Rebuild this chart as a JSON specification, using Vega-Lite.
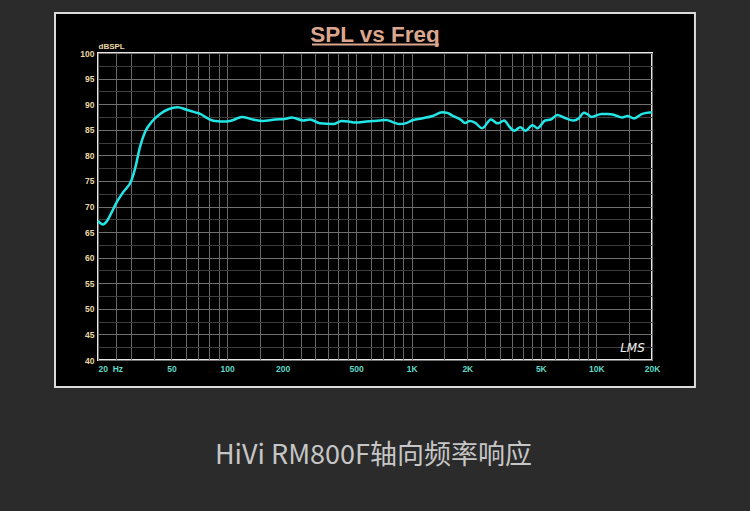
{
  "$schema": "https://vega.github.io/schema/vega-lite/v6.json",
  "width": 554,
  "height": 307,
  "autosize": {"type": "none"},
  "padding": {"left": 98, "top": 53, "right": 98, "bottom": 151},
  "background": "#000000",
  "config": {
    "view": {"fill": "#000000", "stroke": "#e6e6e6", "strokeWidth": 2},
    "axis": {"domain": false, "ticks": false, "labelFlush": false, "labelOverlap": false, "labelFont": "Liberation Sans", "labelFontWeight": "bold", "labelFontSize": 8.5, "labelPadding": 4, "gridWidth": 1},
    "axisX": {"labelColor": "#5ed9c6", "gridColor": "#6a6a6a"},
    "axisY": {"labelColor": "#e9d9a6", "titleColor": "#e9d9a6", "titleFont": "Liberation Sans", "titleFontWeight": "bold", "titleFontSize": 8}
  },
  "datasets": {
    "response": [
      {"f": 20, "spl": 67.2}, {"f": 21.3, "spl": 66.5}, {"f": 22.2, "spl": 67.0}, {"f": 23.3, "spl": 68.3},
      {"f": 25.3, "spl": 70.9}, {"f": 27.5, "spl": 72.9}, {"f": 30.5, "spl": 75.3}, {"f": 31.8, "spl": 77.5},
      {"f": 33.8, "spl": 81.7}, {"f": 36, "spl": 84.6}, {"f": 39.2, "spl": 86.6}, {"f": 43.4, "spl": 88.1},
      {"f": 48.1, "spl": 89.0}, {"f": 53.9, "spl": 89.4}, {"f": 60.4, "spl": 88.9}, {"f": 67.3, "spl": 88.4},
      {"f": 71.5, "spl": 88.1}, {"f": 78.7, "spl": 87.2}, {"f": 86, "spl": 86.7}, {"f": 99.4, "spl": 86.6},
      {"f": 108, "spl": 86.9}, {"f": 120, "spl": 87.5}, {"f": 138, "spl": 87.0}, {"f": 156, "spl": 86.7},
      {"f": 182, "spl": 87.0}, {"f": 205, "spl": 87.1}, {"f": 224, "spl": 87.4}, {"f": 259, "spl": 86.8},
      {"f": 281, "spl": 87.0}, {"f": 318, "spl": 86.25}, {"f": 376, "spl": 86.1}, {"f": 417, "spl": 86.7},
      {"f": 454, "spl": 86.6}, {"f": 494, "spl": 86.4}, {"f": 569, "spl": 86.6}, {"f": 669, "spl": 86.8},
      {"f": 728, "spl": 86.9}, {"f": 800, "spl": 86.4}, {"f": 858, "spl": 86.1}, {"f": 934, "spl": 86.3},
      {"f": 1000, "spl": 86.8}, {"f": 1130, "spl": 87.2}, {"f": 1300, "spl": 87.7}, {"f": 1460, "spl": 88.4},
      {"f": 1560, "spl": 88.3}, {"f": 1650, "spl": 87.8}, {"f": 1852, "spl": 86.9}, {"f": 1943, "spl": 86.3},
      {"f": 2060, "spl": 86.7}, {"f": 2198, "spl": 86.4}, {"f": 2405, "spl": 85.3}, {"f": 2685, "spl": 87.0},
      {"f": 2918, "spl": 86.25}, {"f": 3165, "spl": 86.8}, {"f": 3375, "spl": 85.6}, {"f": 3596, "spl": 84.8},
      {"f": 3867, "spl": 85.5}, {"f": 4120, "spl": 84.8}, {"f": 4508, "spl": 85.9}, {"f": 4798, "spl": 85.3},
      {"f": 5275, "spl": 86.8}, {"f": 5660, "spl": 87.0}, {"f": 6140, "spl": 87.9}, {"f": 6670, "spl": 87.4},
      {"f": 7533, "spl": 86.8}, {"f": 8006, "spl": 87.2}, {"f": 8560, "spl": 88.3}, {"f": 8900, "spl": 88.1},
      {"f": 9420, "spl": 87.5}, {"f": 10640, "spl": 88.1}, {"f": 11540, "spl": 88.1}, {"f": 12500, "spl": 87.9},
      {"f": 13800, "spl": 87.4}, {"f": 14760, "spl": 87.7}, {"f": 16000, "spl": 87.2}, {"f": 17700, "spl": 88.1},
      {"f": 20000, "spl": 88.4}
    ],
    "texts": [
      {"title": "SPL vs Freq", "caption": "HiVi RM800F轴向频率响应", "logo": "LMS"}
    ]
  },
  "layer": [
    {
      "data": {"name": "response"},
      "mark": {"type": "line", "color": "#22e6e6", "strokeWidth": 2.5, "interpolate": "monotone"},
      "encoding": {
        "x": {
          "field": "f", "type": "quantitative",
          "scale": {"type": "log", "domain": [20, 20000], "nice": false},
          "axis": {"title": null, "values": [20, 25, 30, 40, 50, 60, 70, 80, 90, 100, 150, 200, 250, 300, 350, 400, 450, 500, 600, 700, 800, 900, 1000, 1500, 2000, 2500, 3000, 3500, 4000, 4500, 5000, 6000, 7000, 8000, 9000, 10000, 15000, 20000], "labelExpr": "datum.value == 20 ? '20\u00a0\u00a0Hz' : indexof([50, 100, 200, 500], datum.value) >= 0 ? ('' + datum.value) : indexof([1000, 2000, 5000, 10000, 20000], datum.value) >= 0 ? ((datum.value / 1000) + 'K') : ''", "labelAlign": {"condition": {"test": "datum.value == 20", "value": "left"}, "value": "center"}}
        },
        "y": {
          "field": "spl", "type": "quantitative",
          "scale": {"domain": [40, 100], "zero": false, "nice": false},
          "axis": {"title": "dBSPL", "titleAngle": 0, "titleAlign": "left", "titleBaseline": "bottom", "titleX": 0, "titleY": -3, "values": [40, 42.5, 45, 47.5, 50, 52.5, 55, 57.5, 60, 62.5, 65, 67.5, 70, 72.5, 75, 77.5, 80, 82.5, 85, 87.5, 90, 92.5, 95, 97.5, 100], "labelExpr": "datum.value % 5 == 0 ? ('' + datum.value) : ''", "gridColor": {"condition": {"test": "datum.value % 5 == 0", "value": "#707070"}, "value": "#3c3c3c"}}
        }
      }
    },
    {
      "data": {"name": "texts"},
      "mark": {"type": "rect", "fill": "transparent", "stroke": "#2b2b2b", "strokeWidth": 400},
      "encoding": {
        "x": {"datum": 0.9664, "type": "quantitative", "scale": {"type": "log", "domain": [20, 20000], "nice": false},
          "axis": {"title": null, "values": [20, 25, 30, 40, 50, 60, 70, 80, 90, 100, 150, 200, 250, 300, 350, 400, 450, 500, 600, 700, 800, 900, 1000, 1500, 2000, 2500, 3000, 3500, 4000, 4500, 5000, 6000, 7000, 8000, 9000, 10000, 15000, 20000], "labelExpr": "datum.value == 20 ? '20\u00a0\u00a0Hz' : indexof([50, 100, 200, 500], datum.value) >= 0 ? ('' + datum.value) : indexof([1000, 2000, 5000, 10000, 20000], datum.value) >= 0 ? ((datum.value / 1000) + 'K') : ''", "labelAlign": {"condition": {"test": "datum.value == 20", "value": "left"}, "value": "center"}}},
        "x2": {"datum": 413860},
        "y": {"datum": 146.9, "type": "quantitative", "scale": {"domain": [40, 100], "zero": false, "nice": false},
          "axis": {"title": "dBSPL", "titleAngle": 0, "titleAlign": "left", "titleBaseline": "bottom", "titleX": 0, "titleY": -3, "values": [40, 42.5, 45, 47.5, 50, 52.5, 55, 57.5, 60, 62.5, 65, 67.5, 70, 72.5, 75, 77.5, 80, 82.5, 85, 87.5, 90, 92.5, 95, 97.5, 100], "labelExpr": "datum.value % 5 == 0 ? ('' + datum.value) : ''", "gridColor": {"condition": {"test": "datum.value % 5 == 0", "value": "#707070"}, "value": "#3c3c3c"}}},
        "y2": {"datum": -4.36}
      }
    },
    {
      "data": {"name": "texts"},
      "mark": {"type": "rect", "fill": "transparent", "stroke": "#dcdcdc", "strokeWidth": 2},
      "encoding": {
        "x": {"datum": 11.7, "type": "quantitative", "scale": {"type": "log", "domain": [20, 20000], "nice": false},
          "axis": {"title": null, "values": [20, 25, 30, 40, 50, 60, 70, 80, 90, 100, 150, 200, 250, 300, 350, 400, 450, 500, 600, 700, 800, 900, 1000, 1500, 2000, 2500, 3000, 3500, 4000, 4500, 5000, 6000, 7000, 8000, 9000, 10000, 15000, 20000], "labelExpr": "datum.value == 20 ? '20\u00a0\u00a0Hz' : indexof([50, 100, 200, 500], datum.value) >= 0 ? ('' + datum.value) : indexof([1000, 2000, 5000, 10000, 20000], datum.value) >= 0 ? ((datum.value / 1000) + 'K') : ''", "labelAlign": {"condition": {"test": "datum.value == 20", "value": "left"}, "value": "center"}}},
        "x2": {"datum": 34172},
        "y": {"datum": 107.82, "type": "quantitative", "scale": {"domain": [40, 100], "zero": false, "nice": false},
          "axis": {"title": "dBSPL", "titleAngle": 0, "titleAlign": "left", "titleBaseline": "bottom", "titleX": 0, "titleY": -3, "values": [40, 42.5, 45, 47.5, 50, 52.5, 55, 57.5, 60, 62.5, 65, 67.5, 70, 72.5, 75, 77.5, 80, 82.5, 85, 87.5, 90, 92.5, 95, 97.5, 100], "labelExpr": "datum.value % 5 == 0 ? ('' + datum.value) : ''", "gridColor": {"condition": {"test": "datum.value % 5 == 0", "value": "#707070"}, "value": "#3c3c3c"}}},
        "y2": {"datum": 34.72}
      }
    },
    {
      "data": {"name": "texts"},
      "mark": {"type": "text", "font": "Liberation Sans", "fontWeight": "bold", "fontSize": 22.5, "color": "#dca58e", "align": "center", "baseline": "alphabetic"},
      "encoding": {
        "text": {"field": "title"},
        "x": {"datum": 632, "type": "quantitative", "scale": {"type": "log", "domain": [20, 20000], "nice": false},
          "axis": {"title": null, "values": [20, 25, 30, 40, 50, 60, 70, 80, 90, 100, 150, 200, 250, 300, 350, 400, 450, 500, 600, 700, 800, 900, 1000, 1500, 2000, 2500, 3000, 3500, 4000, 4500, 5000, 6000, 7000, 8000, 9000, 10000, 15000, 20000], "labelExpr": "datum.value == 20 ? '20\u00a0\u00a0Hz' : indexof([50, 100, 200, 500], datum.value) >= 0 ? ('' + datum.value) : indexof([1000, 2000, 5000, 10000, 20000], datum.value) >= 0 ? ((datum.value / 1000) + 'K') : ''", "labelAlign": {"condition": {"test": "datum.value == 20", "value": "left"}, "value": "center"}}},
        "y": {"datum": 102.1, "type": "quantitative", "scale": {"domain": [40, 100], "zero": false, "nice": false},
          "axis": {"title": "dBSPL", "titleAngle": 0, "titleAlign": "left", "titleBaseline": "bottom", "titleX": 0, "titleY": -3, "values": [40, 42.5, 45, 47.5, 50, 52.5, 55, 57.5, 60, 62.5, 65, 67.5, 70, 72.5, 75, 77.5, 80, 82.5, 85, 87.5, 90, 92.5, 95, 97.5, 100], "labelExpr": "datum.value % 5 == 0 ? ('' + datum.value) : ''", "gridColor": {"condition": {"test": "datum.value % 5 == 0", "value": "#707070"}, "value": "#3c3c3c"}}}
      }
    },
    {
      "data": {"name": "texts"},
      "mark": {"type": "rule", "color": "#dca58e", "strokeWidth": 2},
      "encoding": {
        "x": {"datum": 288.3, "type": "quantitative", "scale": {"type": "log", "domain": [20, 20000], "nice": false},
          "axis": {"title": null, "values": [20, 25, 30, 40, 50, 60, 70, 80, 90, 100, 150, 200, 250, 300, 350, 400, 450, 500, 600, 700, 800, 900, 1000, 1500, 2000, 2500, 3000, 3500, 4000, 4500, 5000, 6000, 7000, 8000, 9000, 10000, 15000, 20000], "labelExpr": "datum.value == 20 ? '20\u00a0\u00a0Hz' : indexof([50, 100, 200, 500], datum.value) >= 0 ? ('' + datum.value) : indexof([1000, 2000, 5000, 10000, 20000], datum.value) >= 0 ? ((datum.value / 1000) + 'K') : ''", "labelAlign": {"condition": {"test": "datum.value == 20", "value": "left"}, "value": "center"}}},
        "x2": {"datum": 1404.6},
        "y": {"datum": 101.66, "type": "quantitative", "scale": {"domain": [40, 100], "zero": false, "nice": false},
          "axis": {"title": "dBSPL", "titleAngle": 0, "titleAlign": "left", "titleBaseline": "bottom", "titleX": 0, "titleY": -3, "values": [40, 42.5, 45, 47.5, 50, 52.5, 55, 57.5, 60, 62.5, 65, 67.5, 70, 72.5, 75, 77.5, 80, 82.5, 85, 87.5, 90, 92.5, 95, 97.5, 100], "labelExpr": "datum.value % 5 == 0 ? ('' + datum.value) : ''", "gridColor": {"condition": {"test": "datum.value % 5 == 0", "value": "#707070"}, "value": "#3c3c3c"}}}
      }
    },
    {
      "data": {"name": "texts"},
      "mark": {"type": "text", "font": "DejaVu Sans", "fontStyle": "italic", "fontSize": 12, "color": "#f0f0f0", "align": "center", "baseline": "middle"},
      "encoding": {
        "text": {"field": "logo"},
        "x": {"datum": 15675, "type": "quantitative", "scale": {"type": "log", "domain": [20, 20000], "nice": false},
          "axis": {"title": null, "values": [20, 25, 30, 40, 50, 60, 70, 80, 90, 100, 150, 200, 250, 300, 350, 400, 450, 500, 600, 700, 800, 900, 1000, 1500, 2000, 2500, 3000, 3500, 4000, 4500, 5000, 6000, 7000, 8000, 9000, 10000, 15000, 20000], "labelExpr": "datum.value == 20 ? '20\u00a0\u00a0Hz' : indexof([50, 100, 200, 500], datum.value) >= 0 ? ('' + datum.value) : indexof([1000, 2000, 5000, 10000, 20000], datum.value) >= 0 ? ((datum.value / 1000) + 'K') : ''", "labelAlign": {"condition": {"test": "datum.value == 20", "value": "left"}, "value": "center"}}},
        "y": {"datum": 42.25, "type": "quantitative", "scale": {"domain": [40, 100], "zero": false, "nice": false},
          "axis": {"title": "dBSPL", "titleAngle": 0, "titleAlign": "left", "titleBaseline": "bottom", "titleX": 0, "titleY": -3, "values": [40, 42.5, 45, 47.5, 50, 52.5, 55, 57.5, 60, 62.5, 65, 67.5, 70, 72.5, 75, 77.5, 80, 82.5, 85, 87.5, 90, 92.5, 95, 97.5, 100], "labelExpr": "datum.value % 5 == 0 ? ('' + datum.value) : ''", "gridColor": {"condition": {"test": "datum.value % 5 == 0", "value": "#707070"}, "value": "#3c3c3c"}}}
      }
    },
    {
      "data": {"name": "texts"},
      "mark": {"type": "text", "font": "Noto Sans CJK SC", "fontSize": 27, "color": "#c6c6c6", "align": "center", "baseline": "middle"},
      "encoding": {
        "text": {"field": "caption"},
        "x": {"datum": 620, "type": "quantitative", "scale": {"type": "log", "domain": [20, 20000], "nice": false},
          "axis": {"title": null, "values": [20, 25, 30, 40, 50, 60, 70, 80, 90, 100, 150, 200, 250, 300, 350, 400, 450, 500, 600, 700, 800, 900, 1000, 1500, 2000, 2500, 3000, 3500, 4000, 4500, 5000, 6000, 7000, 8000, 9000, 10000, 15000, 20000], "labelExpr": "datum.value == 20 ? '20\u00a0\u00a0Hz' : indexof([50, 100, 200, 500], datum.value) >= 0 ? ('' + datum.value) : indexof([1000, 2000, 5000, 10000, 20000], datum.value) >= 0 ? ((datum.value / 1000) + 'K') : ''", "labelAlign": {"condition": {"test": "datum.value == 20", "value": "left"}, "value": "center"}}},
        "y": {"datum": 21.24, "type": "quantitative", "scale": {"domain": [40, 100], "zero": false, "nice": false},
          "axis": {"title": "dBSPL", "titleAngle": 0, "titleAlign": "left", "titleBaseline": "bottom", "titleX": 0, "titleY": -3, "values": [40, 42.5, 45, 47.5, 50, 52.5, 55, 57.5, 60, 62.5, 65, 67.5, 70, 72.5, 75, 77.5, 80, 82.5, 85, 87.5, 90, 92.5, 95, 97.5, 100], "labelExpr": "datum.value % 5 == 0 ? ('' + datum.value) : ''", "gridColor": {"condition": {"test": "datum.value % 5 == 0", "value": "#707070"}, "value": "#3c3c3c"}}}
      }
    }
  ]
}
